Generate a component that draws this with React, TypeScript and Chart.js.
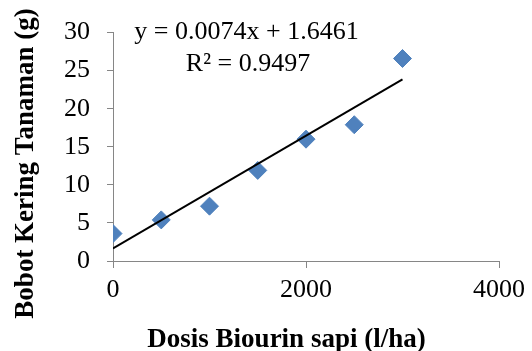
import React, { useEffect, useRef } from "react";
import { Chart, registerables } from "chart.js";

Chart.register(...registerables);

const doses = [0, 500, 1000, 1500, 2000, 2500, 3000];
const dryWeight = [3.6, 5.4, 7.2, 11.9, 16.0, 17.9, 26.6];
const trendX = [0, 3000];
const trendY = [1.6461, 23.8461];
const equationLines = ["y = 0.0074x + 1.6461", "R² = 0.9497"];
const xTitle = "Dosis Biourin sapi (l/ha)";
const yTitle = "Bobot Kering Tanaman (g)";

const FONT = "'Liberation Serif', 'Times New Roman', serif";
const AXIS = "#868686";

const textPlugin = {
  id: "texts",
  afterDraw(chart: any) {
    const ctx = chart.ctx;
    ctx.save();
    ctx.fillStyle = "#000";
    ctx.font = `26px ${FONT}`;
    ctx.textAlign = "center";
    ctx.textBaseline = "alphabetic";
    ctx.fillText(equationLines[0], 246.5, 39);
    ctx.fillText(equationLines[1], 248, 71);

    ctx.font = `bold 27px ${FONT}`;
    ctx.fillText(xTitle, 286.5, 347);

    ctx.translate(33, 163.5);
    ctx.rotate(-Math.PI / 2);
    ctx.fillText(yTitle, 0, 0);
    ctx.restore();
  },
};

export default function App() {
  const ref = useRef<HTMLCanvasElement | null>(null);
  useEffect(() => {
    if (!ref.current) return;
    const chart = new Chart(ref.current, {
      type: "scatter",
      data: {
        datasets: [
          {
            label: "Data",
            data: doses.map((x, i) => ({ x, y: dryWeight[i] })),
            pointStyle: "rectRot",
            pointRadius: 9,
            backgroundColor: "#4F81BD",
            borderColor: "#4F81BD",
            borderWidth: 1,
            order: 1,
          },
          {
            type: "line",
            label: "Trend",
            data: trendX.map((x, i) => ({ x, y: trendY[i] })),
            borderColor: "#000",
            borderWidth: 2,
            pointRadius: 0,
            showLine: true,
            fill: false,
            order: 0,
          } as any,
        ],
      },
      options: {
        animation: false,
        responsive: true,
        maintainAspectRatio: false,
        layout: { padding: { top: 24, right: 28, left: 47, bottom: 0 } },
        plugins: {
          legend: { display: false },
          tooltip: { enabled: false },
        },
        scales: {
          x: {
            type: "linear",
            min: 0,
            max: 4000,
            ticks: {
              stepSize: 2000,
              color: "#000",
              font: { family: FONT, size: 26 },
              padding: 7,
              maxRotation: 0,
              callback: (v: any) => String(v),
            },
            grid: {
              drawOnChartArea: false,
              drawTicks: true,
              tickLength: 7,
              color: AXIS,
            },
            border: { color: AXIS, width: 1 },
            title: { display: false, text: xTitle },
            afterFit(scale: any) {
              scale.height = 90;
            },
          },
          y: {
            min: 0,
            max: 30,
            ticks: {
              stepSize: 5,
              color: "#000",
              font: { family: FONT, size: 26 },
              padding: 17,
              callback: (v: any) => String(v),
            },
            grid: {
              drawOnChartArea: false,
              drawTicks: true,
              tickLength: 6,
              color: AXIS,
            },
            border: { color: AXIS, width: 1 },
            title: { display: false, text: yTitle },
          },
        },
      },
      plugins: [textPlugin],
    });
    return () => chart.destroy();
  }, []);
  return (
    <div style={{ position: "fixed", left: 0, top: 0, width: 532, height: 351, background: "#fff" }}>
      <canvas ref={ref} />
    </div>
  );
}
